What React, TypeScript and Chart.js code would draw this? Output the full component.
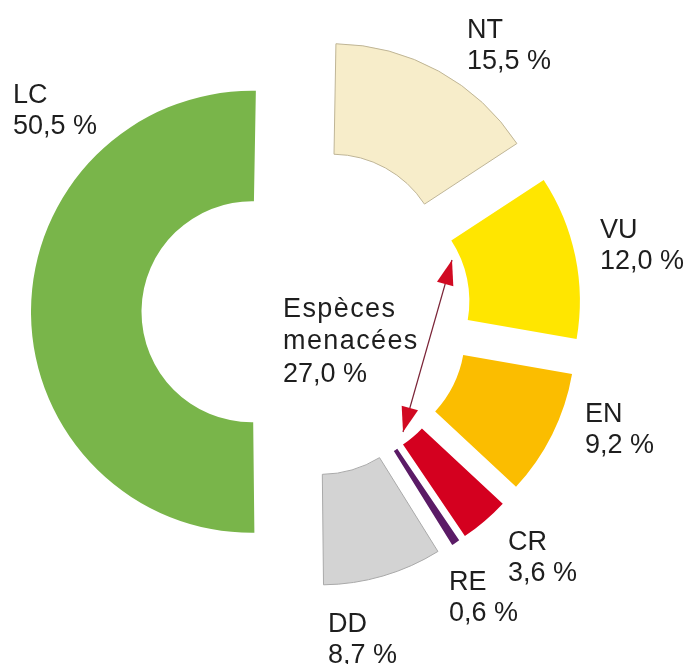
import React, { useEffect, useRef } from 'react';
import { Chart, registerables } from 'chart.js';

Chart.register(...registerables);

// ---- data ----
const categories = ['NT', 'VU', 'EN', 'CR', 'RE', 'DD', 'LC'];
const shares = [15.5, 12.0, 9.2, 3.6, 0.6, 8.7, 50.5];
const shareLabels = ['15,5 %', '12,0 %', '9,2 %', '3,6 %', '0,6 %', '8,7 %', '50,5 %'];
const threatenedTitle = ['Espèces', 'menacées'];
const threatenedShare = '27,0 %';

// ---- styles ----
const fillColors = ['#f7edca', '#ffe600', '#fbbd00', '#d4001f', '#5b1b66', '#d3d3d3', '#79b54a'];
const edgeColors = ['#bfb596', '#ffe600', '#fbbd00', '#d4001f', '#5b1b66', '#a9a9a9', '#79b54a'];
const edgeWidths = [1, 0, 0, 0, 0, 1, 0];
const EXPLODE = 54;
const FONT = '27px "Liberation Sans", Arial, sans-serif';
const TEXT_COLOR = '#1e1e1e';
const LINE_H = 31;
const labelAnchors: [number, number][] = [
  [467, 38], [600, 238], [585, 422], [508, 550], [449, 590], [328, 632], [13, 103],
];
const noteAnchor: [number, number] = [283, 317];
const arrowTop: [number, number] = [452, 260];
const arrowBottom: [number, number] = [403, 432];

const explodePlugin = {
  id: 'explodeArcs',
  afterDatasetsUpdate(chart: any) {
    const meta = chart.getDatasetMeta(0);
    meta.data.forEach((arc: any) => {
      const mid = (arc.startAngle + arc.endAngle) / 2;
      arc.x += Math.cos(mid) * EXPLODE;
      arc.y += Math.sin(mid) * EXPLODE;
    });
  },
};

function drawHead(ctx: CanvasRenderingContext2D, tip: [number, number], from: [number, number]) {
  const dx = tip[0] - from[0];
  const dy = tip[1] - from[1];
  const len = Math.hypot(dx, dy);
  const ux = dx / len;
  const uy = dy / len;
  const L = 25;
  const W = 8.5;
  const bx = tip[0] - ux * L;
  const by = tip[1] - uy * L;
  ctx.beginPath();
  ctx.moveTo(tip[0], tip[1]);
  ctx.lineTo(bx - uy * W, by + ux * W);
  ctx.lineTo(bx + uy * W, by - ux * W);
  ctx.closePath();
  ctx.fillStyle = '#d10a22';
  ctx.fill();
}

const annotationPlugin = {
  id: 'annotations',
  afterDraw(chart: any) {
    const ctx: CanvasRenderingContext2D = chart.ctx;
    ctx.save();
    // arrow
    ctx.strokeStyle = '#7a2336';
    ctx.lineWidth = 1.2;
    ctx.beginPath();
    ctx.moveTo(arrowTop[0], arrowTop[1]);
    ctx.lineTo(arrowBottom[0], arrowBottom[1]);
    ctx.stroke();
    drawHead(ctx, arrowTop, arrowBottom);
    drawHead(ctx, arrowBottom, arrowTop);

    // labels
    ctx.font = FONT;
    ctx.fillStyle = TEXT_COLOR;
    ctx.textAlign = 'left';
    ctx.textBaseline = 'alphabetic';
    categories.forEach((c, i) => {
      const [x, y] = labelAnchors[i];
      ctx.fillText(c, x, y);
      ctx.fillText(shareLabels[i], x, y + LINE_H);
    });
    const c2: any = ctx;
    c2.letterSpacing = '1.4px';
    threatenedTitle.forEach((t, i) => {
      ctx.fillText(t, noteAnchor[0], noteAnchor[1] + i * 32);
    });
    c2.letterSpacing = '0px';
    ctx.fillText(threatenedShare, noteAnchor[0], noteAnchor[1] + 2 * 32 + 1);
    ctx.restore();
  },
};

export default function App() {
  const canvasRef = useRef<HTMLCanvasElement | null>(null);

  useEffect(() => {
    if (!canvasRef.current) return;
    const chart = new Chart(canvasRef.current, {
      type: 'doughnut',
      data: {
        labels: categories,
        datasets: [
          {
            data: shares,
            backgroundColor: fillColors,
            borderColor: edgeColors,
            borderWidth: edgeWidths,
          },
        ],
      },
      options: {
        responsive: false,
        animation: false,
        devicePixelRatio: 1,
        events: [],
        radius: 221,
        cutout: '50%',
        rotation: 1,
        layout: { padding: { left: 0, right: 80, top: 0, bottom: 40 } },
        plugins: {
          legend: { display: false },
          tooltip: { enabled: false },
        },
      } as any,
      plugins: [explodePlugin, annotationPlugin],
    });
    return () => chart.destroy();
  }, []);

  return (
    <div style={{ position: 'absolute', left: 0, top: 0, width: 692, height: 664, background: '#fff' }}>
      <canvas ref={canvasRef} width={692} height={664} />
    </div>
  );
}
